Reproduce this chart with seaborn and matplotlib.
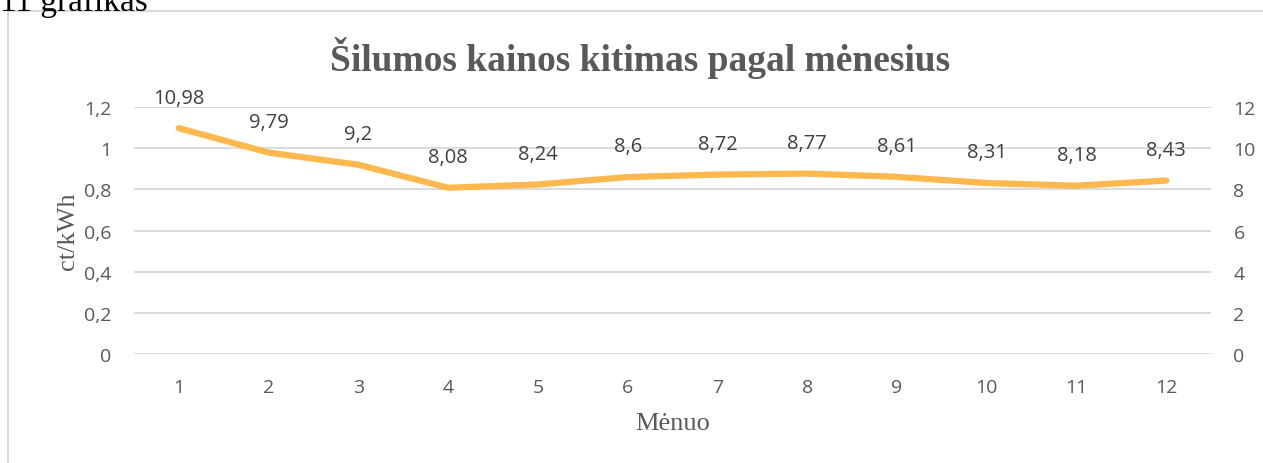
import matplotlib
matplotlib.use("Agg")
import matplotlib.pyplot as plt
import seaborn as sns
import pandas as pd
from matplotlib.patches import Rectangle

sns.set_theme(style="white")
plt.rcParams['font.family'] = ['Open Sans', 'DejaVu Sans']

# data
months = [1, 2, 3, 4, 5, 6, 7, 8, 9, 10, 11, 12]
prices = [10.98, 9.79, 9.2, 8.08, 8.24, 8.6, 8.72, 8.77, 8.61, 8.31, 8.18, 8.43]
left_ticks = [0, 0.2, 0.4, 0.6, 0.8, 1.0, 1.2]
right_ticks = [0, 2, 4, 6, 8, 10, 12]

df = pd.DataFrame({'Mėnuo': months, 'Kaina': prices})

line_color = '#FFB84D'
text_gray = '#595959'
serif = ['Liberation Serif', 'DejaVu Serif']

fig = plt.figure(figsize=(12.63, 4.64), dpi=100)
ax = fig.add_axes([0.106, 0.235, 0.853, 0.532])
ax2 = ax.twinx()

# chart border (cut by the page edges like in the screenshot)
fig.patches.append(Rectangle((8 / 1263, -0.1), 1.2, 1 - 12 / 464 + 0.1,
                             transform=fig.transFigure, fill=False,
                             edgecolor='#D9D9D9', linewidth=1.5))

# left axis only provides the scale and grid
ax.set_ylim(0, 1.2)
ax.set_yticks(left_ticks)
ax.set_yticklabels([f'{v:g}'.replace('.', ',') for v in left_ticks])
ax.set_xlim(0.5, 12.5)
ax.set_xticks(months)
ax.set_xticklabels([str(m) for m in months])
ax.grid(axis='y', color='#D9D9D9', linewidth=1.3)
ax.set_axisbelow(True)

sns.lineplot(data=df, x='Mėnuo', y='Kaina', ax=ax2, color=line_color,
             linewidth=4.5, solid_capstyle='round')
ax2.set_ylim(0, 12)
ax2.set_yticks(right_ticks)
ax2.set_yticklabels([str(v) for v in right_ticks])
ax2.set_xlim(0.5, 12.5)
ax2.set_ylabel('')
ax2.set_xlabel('')

for m, p in zip(months, prices):
    ax2.annotate(f'{p:g}'.replace('.', ','), (m, p), xytext=(0, 22),
                 textcoords='offset points', ha='center', va='center',
                 fontsize=14.5, color='#404040')

for a in (ax, ax2):
    for s in a.spines.values():
        s.set_visible(False)
    a.tick_params(length=0, labelsize=14, colors=text_gray, pad=16)

ax.tick_params(axis='x', pad=17)
ax.set_xlabel('Mėnuo', fontsize=19, family=serif, color=text_gray, labelpad=12)
ax.set_ylabel('ct/kWh', fontsize=19, family=serif, color=text_gray, labelpad=4)

fig.text(0.507, 0.875, 'Šilumos kainos kitimas pagal mėnesius', ha='center',
         va='center', fontsize=27, fontweight='bold', family=serif,
         color=text_gray)
fig.text(0.0, 0.995, '11 grafikas', ha='left', va='center', fontsize=24,
         family=serif, color='black')

fig.savefig('out.png', dpi=100)
